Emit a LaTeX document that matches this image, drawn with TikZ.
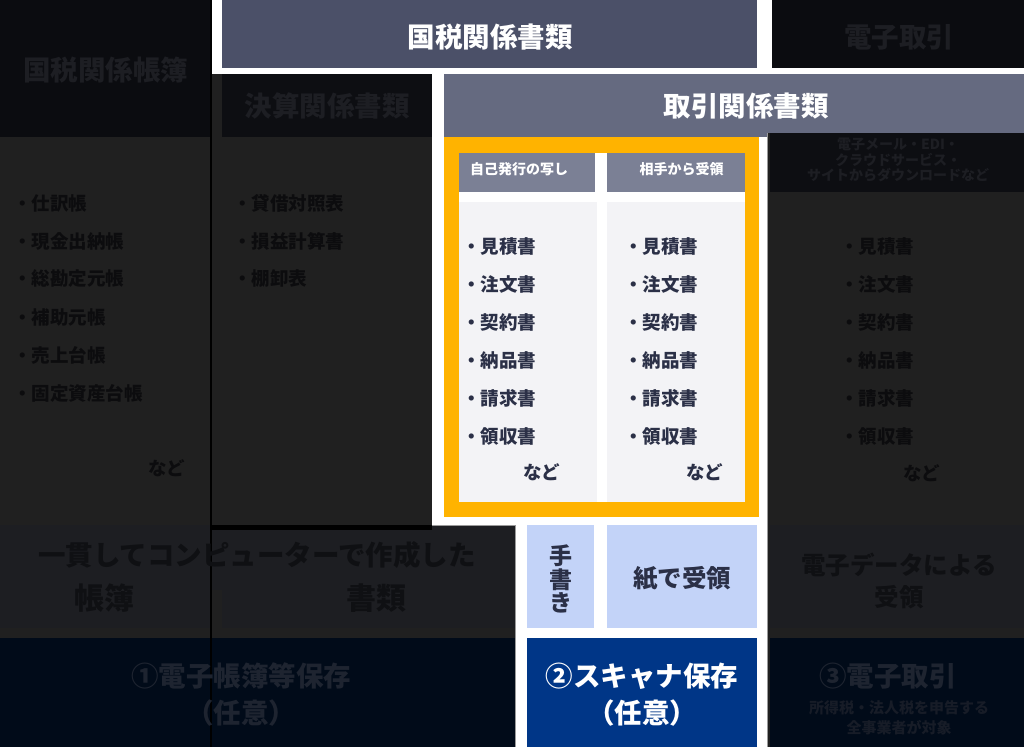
\documentclass[tikz,border=0pt]{standalone}
\usepackage{fontspec}
\newfontfamily\jp{Noto Sans CJK JP}
\definecolor{cBody}{HTML}{202020}
\definecolor{dHead}{HTML}{0B0C10}
\definecolor{dHeadB}{HTML}{0D0E12}
\definecolor{dBox}{HTML}{1D1E22}
\definecolor{dNavy}{HTML}{010B19}
\definecolor{hA}{HTML}{4B5068}
\definecolor{hB}{HTML}{656A80}
\definecolor{subC}{HTML}{7B8095}
\definecolor{lbody}{HTML}{F3F3F6}
\definecolor{orng}{HTML}{FFB300}
\definecolor{lblue}{HTML}{C3D3F8}
\definecolor{navy}{HTML}{003687}
\definecolor{itemC}{HTML}{2B3047}
\definecolor{tHead}{HTML}{1D1E23}
\definecolor{tItem}{HTML}{0C0C0E}
\definecolor{tBox}{HTML}{0F1013}
\definecolor{tNavy}{HTML}{1E2430}
\definecolor{tNavyB}{HTML}{171C27}
\definecolor{edge}{HTML}{9A9A9A}
\tikzset{
  fs/.style={inner sep=0pt, font={\jp\bfseries\fontsize{#1}{#1}\selectfont}},
  fsl/.style 2 args={inner sep=0pt, align=center, font={\jp\bfseries\fontsize{#1}{#2}\selectfont}},
  item/.style={fs=18.5, anchor=west},
}
\begin{document}
\begin{tikzpicture}[x=1pt,y=-1pt]
\useasboundingbox (0,0) rectangle (1024,747);
% background
\fill[cBody] (0,0) rectangle (1024,747);
% white spotlight frame
\fill[white] (212,0) rectangle (1024,74);
\fill[white] (432,74) rectangle (767,525);
\fill[white] (515,525) rectangle (767,747);
% dim headers
\fill[dHead] (0,0) rectangle (210,137);
\fill[dHeadB] (222,74) rectangle (432,137);
\fill[dHead] (772,0) rectangle (1024,68);
% lit headers
\fill[hA] (222,0) rectangle (757,68);
\fill[hB] (444,74) rectangle (1024,137);
% right column (dim)
\fill[cBody] (767,133) rectangle (1024,747);
\fill[dHeadB] (770,133) rectangle (1024,192);
% orange frame with two columns
\fill[orng] (444,137) rectangle (759,517);
\fill[white] (459,153) rectangle (745,502);
\fill[subC] (459,153) rectangle (595,192);
\fill[subC] (607,153) rectangle (745,192);
\fill[lbody] (459,202) rectangle (597,502);
\fill[lbody] (607,202) rectangle (745,502);
% bottom left (dim)
\fill[dBox] (0,525) rectangle (515,590);
\fill[dBox] (0,525) rectangle (210,628);
\fill[dBox] (222,525) rectangle (515,628);
\fill[dNavy] (0,638) rectangle (515,747);
\fill[black] (212,525) rectangle (432,530);
\fill[black] (210,0) rectangle (212,747);
% scanner column
\fill[lblue] (527,525) rectangle (594,628);
\fill[lblue] (607,525) rectangle (757,628);
\fill[navy] (527,638) rectangle (757,747);
% bottom right (dim)
\fill[dBox] (770,525) rectangle (1024,628);
\fill[dNavy] (770,638) rectangle (1024,747);
% thin edges of the spotlight
\draw[edge, line width=0.8pt] (767,133) -- (767,747);
\draw[edge, line width=0.8pt] (432,525) -- (515,525) -- (515,747);

% header texts
\node[fs=27.5, text=tHead] (hLedger) at (105.5,70) {国税関係帳簿};
\node[fs=27.5, text=white] (hDocs) at (490,37) {国税関係書類};
\node[fs=27.5, text=tHead] (hElec) at (899,37) {電子取引};
\node[fs=27.5, text=tHead] (hSett) at (327,106) {決算関係書類};
\node[fs=27.5, text=white] (hTrade) at (746,106) {取引関係書類};
\node[fs=14, text=white] (sSelf) at (519,169) {自己発行の写し};
\node[fs=14, text=white] (sRecv) at (681.5,169) {相手から受領};
\node[fsl={14}{15.2}, text=tHead] (sElec) at (898,160) {電子メール・EDI・\\クラウドサービス・\\サイトからダウンロードなど};

% lit item lists
\foreach \t [count=\i] in {見積書,注文書,契約書,納品書,請求書,領収書} {
  \node[item, text=itemC] (sa\i) at (462,{208+38*\i}) {・\t};
  \node[item, text=itemC] (ra\i) at (624,{208+38*\i}) {・\t};
  \node[item, text=tItem] (ea\i) at (840,{208+38*\i}) {・\t};
}
\node[item, text=itemC] (saEtc) at (523,472) {など};
\node[item, text=itemC] (raEtc) at (686,472) {など};
\node[item, text=tItem] (eaEtc) at (903,473) {など};

% dim item lists
\foreach \t [count=\i] in {仕訳帳,現金出納帳,総勘定元帳,補助元帳,売上台帳,固定資産台帳} {
  \node[item, text=tItem] (la\i) at (13,{165+38*\i}) {・\t};
}
\node[item, text=tItem] (laEtc) at (148,468) {など};
\foreach \t [count=\i] in {貸借対照表,損益計算書,棚卸表} {
  \node[item, text=tItem] (ka\i) at (233,{165+38*\i}) {・\t};
}

% bottom texts
\node[fs=27.5, text=tBox] (bComp) at (257,555) {一貫してコンピューターで作成した};
\node[fs=30, text=tBox] (bLedger) at (104,598) {帳簿};
\node[fs=30, text=tBox] (bDocs) at (376,598) {書類};
\node[fsl={23}{23.5}, text=itemC] (bHand) at (560.5,579) {手\\書\\き};
\node[fs=24.5, text=itemC] (bPaper) at (682,578) {紙で受領};
\node[fsl={24.5}{32}, text=tBox] (bData) at (899,581) {電子データによる\\受領};
\node[fsl={27.5}{37}, text=tNavy] (bOne) at (241,694.5) {①電子帳簿等保存\\（任意）};
\node[fsl={27.5}{37}, text=white] (bTwo) at (642,694.5) {②スキャナ保存\\（任意）};
\node[fs=27.5, text=tNavy] (bThree) at (888,676) {③電子取引};
\node[fsl={15}{20}, text=tNavyB] (bNote) at (899,718) {所得税・法人税を申告する\\全事業者が対象};
\end{tikzpicture}
\end{document}
